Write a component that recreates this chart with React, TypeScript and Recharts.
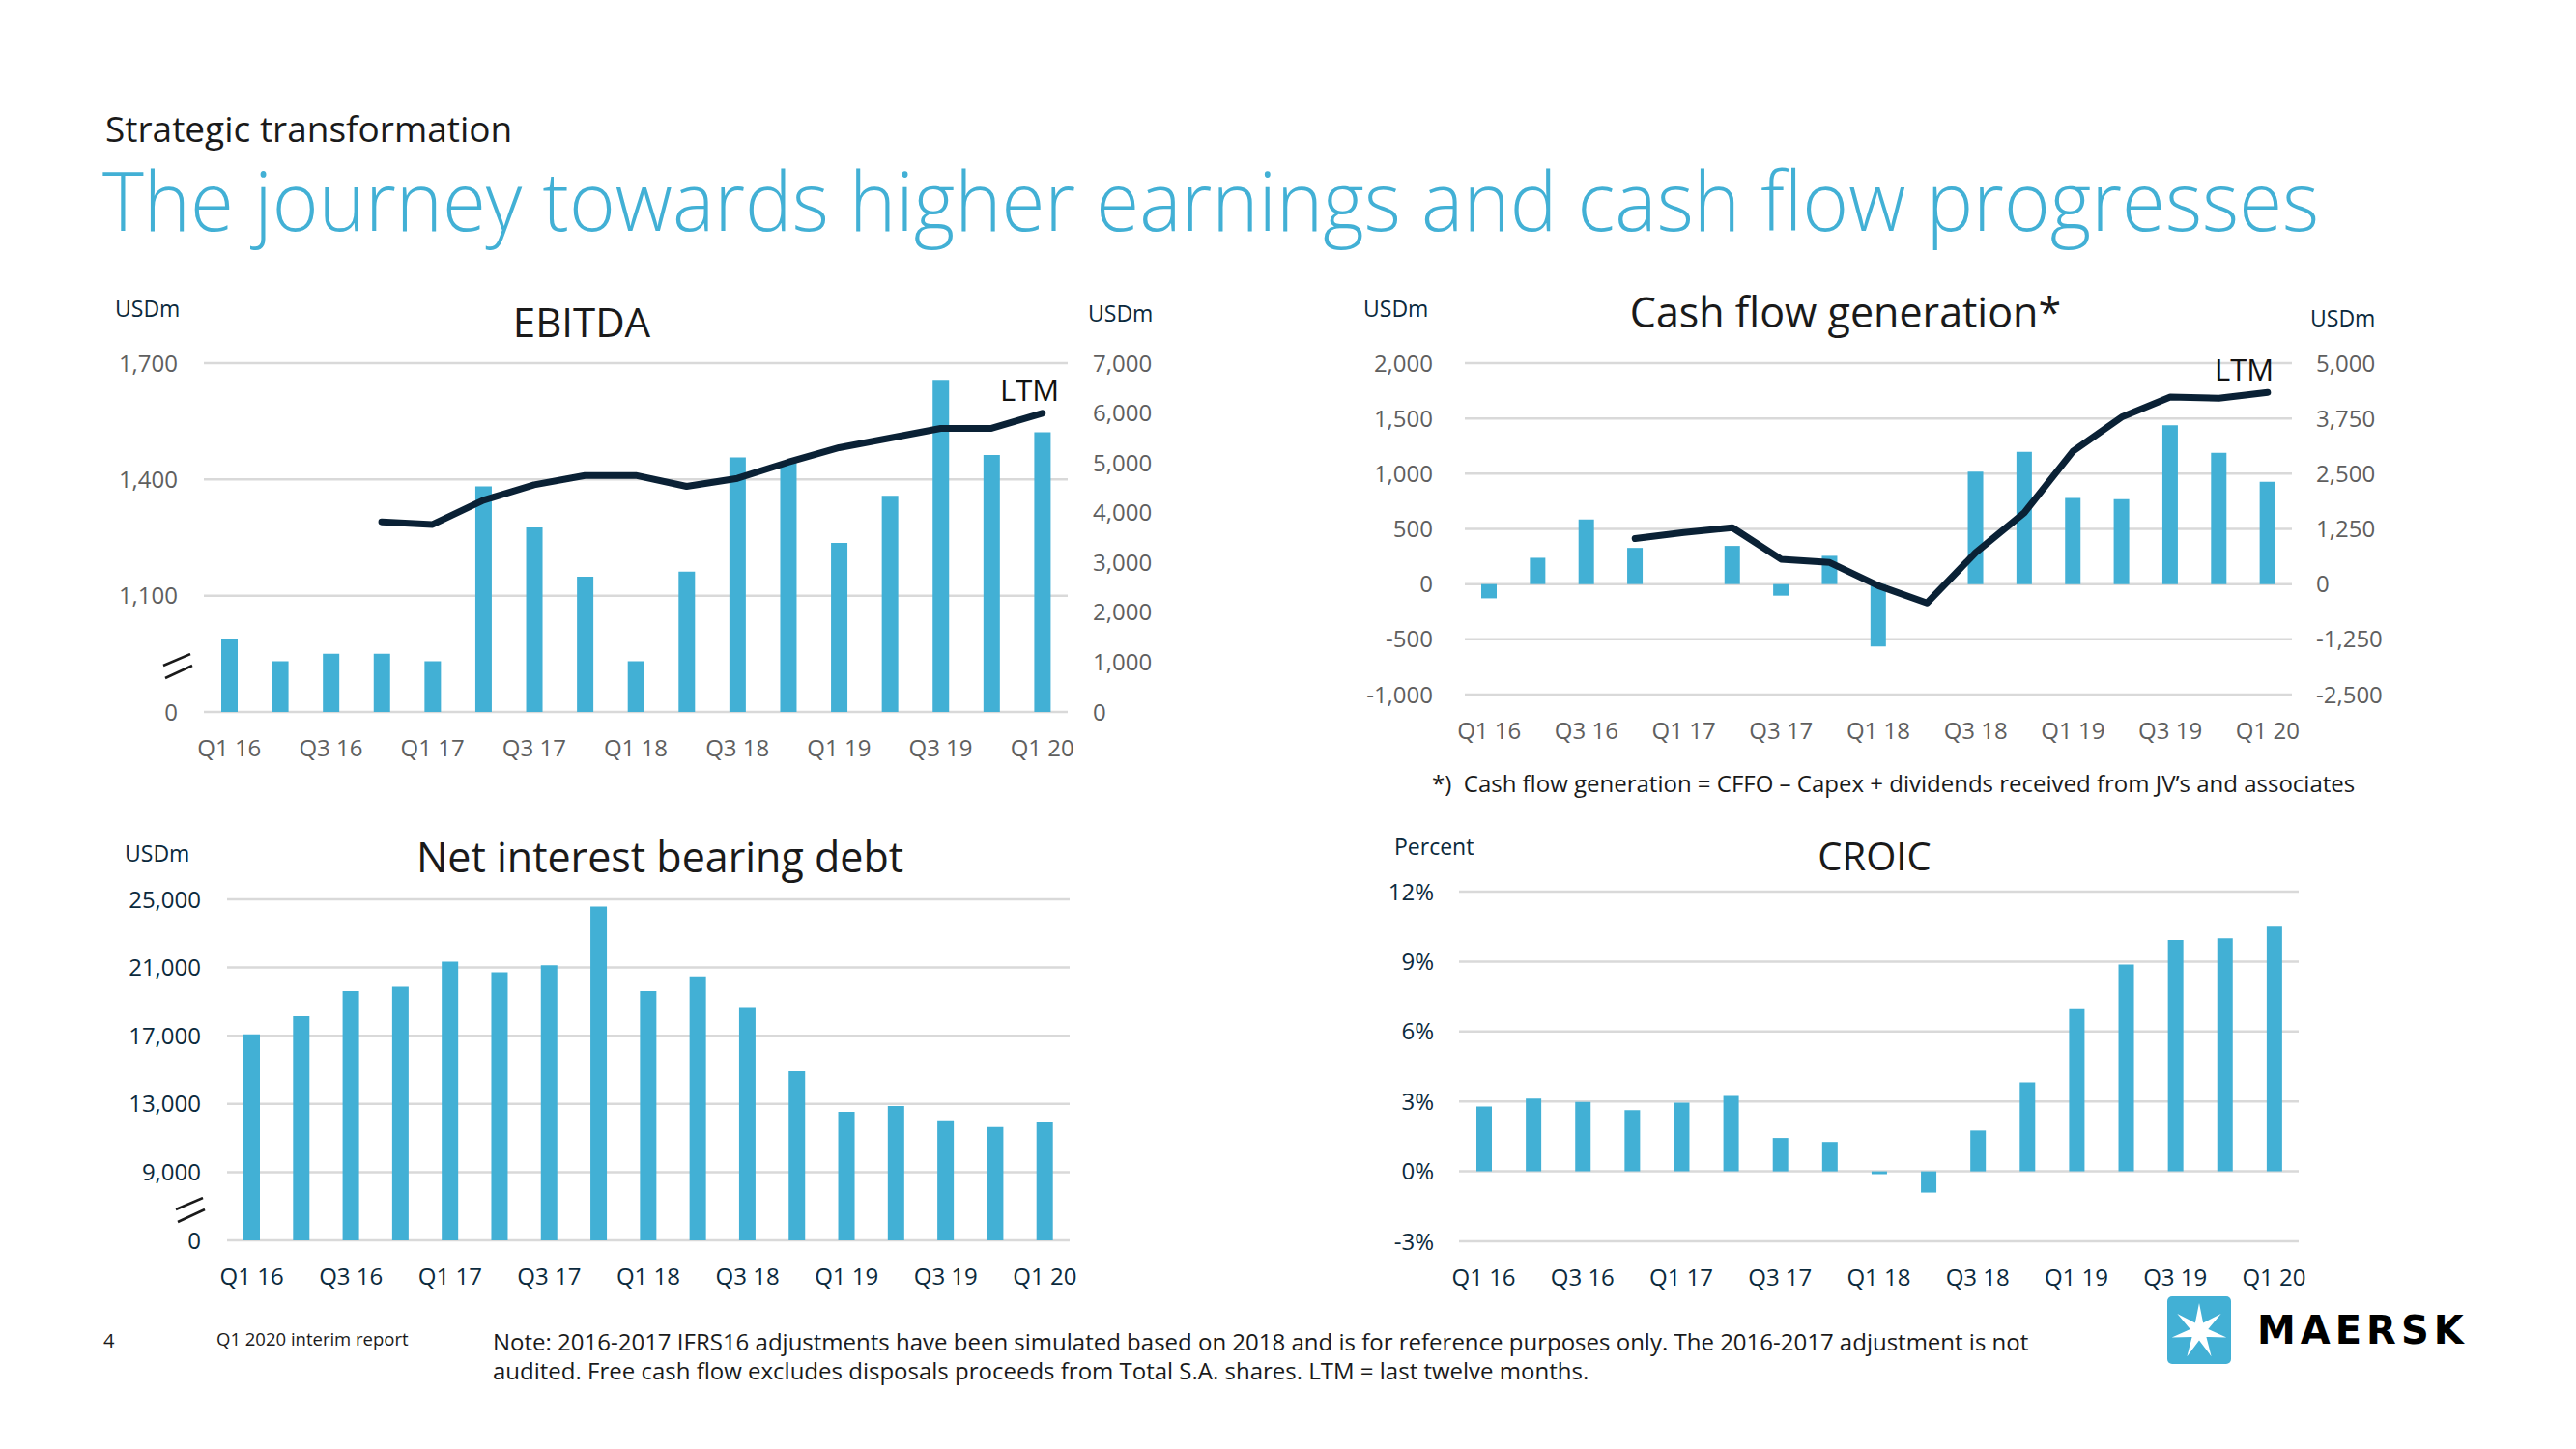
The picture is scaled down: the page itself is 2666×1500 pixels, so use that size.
import React from 'react';
import { ComposedChart, BarChart, Bar, Line, XAxis, YAxis, CartesianGrid } from 'recharts';

const quarters = [
  'Q1 16', 'Q2 16', 'Q3 16', 'Q4 16',
  'Q1 17', 'Q2 17', 'Q3 17', 'Q4 17',
  'Q1 18', 'Q2 18', 'Q3 18', 'Q4 18',
  'Q1 19', 'Q2 19', 'Q3 19', 'Q4 19',
  'Q1 20',
];

// EBITDA, USDm (quarterly bars, left axis) and LTM (line, right axis)
const ebitdaQuarterly = [989, 931, 950, 950, 931, 1382, 1276, 1149, 931, 1162, 1457, 1444, 1236, 1358, 1657, 1463, 1522];
const ebitdaLtm = [null, null, null, 3816, 3764, 4249, 4559, 4747, 4747, 4528, 4689, 5013, 5304, 5498, 5692, 5692, 5995];
const ebitdaBreak = 800; // axis is broken: this position is labelled 0
const ebitdaLeftTicks = [800, 1100, 1400, 1700];
const ebitdaRightTicks = [0, 1000, 2000, 3000, 4000, 5000, 6000, 7000];

// Cash flow generation, USDm
const cashQuarterly = [-129, 238, 586, 328, 0, 346, -105, 256, -565, 0, 1019, 1197, 779, 770, 1437, 1188, 926];
const cashLtm = [null, null, null, 1031, 1166, 1278, 563, 489, -37, -428, 714, 1616, 3007, 3780, 4233, 4209, 4337];
const cashLeftTicks = [-1000, -500, 0, 500, 1000, 1500, 2000];
const cashRightTicks = [-2500, -1250, 0, 1250, 2500, 3750, 5000];

// Net interest bearing debt, USDm
const nibd = [17083, 18140, 19611, 19876, 21347, 20725, 21138, 24570, 19611, 20476, 18689, 14917, 12542, 12881, 12033, 11637, 11960];
const nibdBreak = 5000; // axis is broken: this position is labelled 0
const nibdTicks = [5000, 9000, 13000, 17000, 21000, 25000];

// CROIC, percent
const croic = [2.78, 3.12, 2.98, 2.62, 2.95, 3.24, 1.43, 1.26, -0.12, -0.91, 1.75, 3.82, 7.0, 8.87, 9.93, 10.0, 10.5];
const croicTicks = [-3, 0, 3, 6, 9, 12];

const BLUE = '#42b0d5';
const NAVY = '#0b2a3d';
const LINE = '#0a2135';
const GREY_TXT = '#5f5f5f';
const GRID = '#d9d9d9';
const FONT = '"Open Sans", "Noto Sans", sans-serif';

const fmt = (v: number) => v.toLocaleString('en-US');

const ebitdaRows = quarters.map((q, i) => ({ q, value: ebitdaQuarterly[i], ltm: ebitdaLtm[i] }));
const cashRows = quarters.map((q, i) => ({ q, value: cashQuarterly[i], ltm: cashLtm[i] }));
const nibdRows = quarters.map((q, i) => ({ q, value: nibd[i] }));
const croicRows = quarters.map((q, i) => ({ q, value: croic[i] }));

const Txt = ({ x, y, size, color = '#1a1a1a', weight = 400, children, align = 'left', w = 0, style = {} }: any) => {
  // y is the vertical centre of the capitals
  const top = y - size * 0.53;
  const pos: any = align === 'center' ? { left: x - w / 2, width: w, textAlign: 'center' } : { left: x };
  return (
    <div style={{ position: 'absolute', top, ...pos, fontSize: size, lineHeight: 1, color, fontWeight: weight, whiteSpace: 'nowrap', fontFamily: FONT, ...style }}>
      {children}
    </div>
  );
};

const BreakMark = ({ x, y }: { x: number; y: number }) => (
  <svg style={{ position: 'absolute', left: x, top: y }} width={32} height={30}>
    <line x1={1} y1={13} x2={29} y2={1} stroke="#1a1a1a" strokeWidth={2.5} />
    <line x1={3} y1={26} x2={31} y2={13} stroke="#1a1a1a" strokeWidth={2.5} />
  </svg>
);

const MaerskLogo = () => {
  const pts: string[] = [];
  for (let i = 0; i < 14; i++) {
    const r = i % 2 === 0 ? 29 : 9.5;
    const a = -Math.PI / 2 + (i * Math.PI) / 7;
    pts.push(`${33 + r * Math.cos(a)},${36 + r * Math.sin(a)}`);
  }
  return (
    <>
      <svg style={{ position: 'absolute', left: 2243, top: 1342 }} width={66} height={70}>
        <rect x={0} y={0} width={66} height={70} rx={5} fill={BLUE} />
        <polygon points={pts.join(' ')} fill="#ffffff" />
      </svg>
      <div style={{ position: 'absolute', left: 2336, top: 1357, fontSize: 40, lineHeight: 1, fontWeight: 900, fontFamily: '"DejaVu Sans", sans-serif', letterSpacing: 5, color: '#000' }}>
        MAERSK
      </div>
    </>
  );
};

const tickStyle = (fill: string) => ({ fill, fontSize: 24, fontFamily: FONT });

export default function App() {
  return (
    <div style={{ position: 'absolute', left: 0, top: 0, width: 2666, height: 1500, background: '#fff', fontFamily: FONT, overflow: 'hidden' }}>
      <Txt x={109} y={134} size={37}>Strategic transformation</Txt>
      <Txt x={106} y={210} size={84} weight={300} color={BLUE} style={{ transform: 'scaleX(0.973)', transformOrigin: 'left center' }}>
        The journey towards higher earnings and cash flow progresses
      </Txt>

      {/* EBITDA */}
      <Txt x={602} y={334} size={42} align="center" w={400}>EBITDA</Txt>
      <Txt x={119} y={320} size={23} color={NAVY}>USDm</Txt>
      <Txt x={1126} y={325} size={23} color={NAVY}>USDm</Txt>
      <div style={{ position: 'absolute', left: 90, top: 336 }}>
        <ComposedChart width={1135} height={461} data={ebitdaRows} margin={{ top: 40, right: 0, bottom: 0, left: 0 }}>
          <CartesianGrid yAxisId="left" vertical={false} stroke={GRID} strokeWidth={2.5} />
          <XAxis dataKey="q" interval={1} axisLine={false} tickLine={false} tickSize={0} tickMargin={29} height={60} tick={tickStyle(GREY_TXT)} />
          <YAxis yAxisId="left" type="number" domain={[ebitdaBreak, 1700]} ticks={ebitdaLeftTicks} interval={0} allowDataOverflow width={121}
            axisLine={false} tickLine={false} tickSize={0} tickMargin={27} tick={tickStyle(GREY_TXT)}
            tickFormatter={(v: number) => (v === ebitdaBreak ? '0' : fmt(v))} />
          <YAxis yAxisId="right" orientation="right" type="number" domain={[0, 7000]} ticks={ebitdaRightTicks} interval={0} width={120}
            axisLine={false} tickLine={false} tickSize={0} tickMargin={26} tick={{ ...tickStyle(GREY_TXT), textAnchor: 'start' }}
            tickFormatter={fmt} />
          <Bar yAxisId="left" dataKey="value" fill={BLUE} barSize={17} isAnimationActive={false} />
          <Line yAxisId="right" dataKey="ltm" stroke={LINE} strokeWidth={7} dot={false} strokeLinejoin="round" strokeLinecap="round" isAnimationActive={false} />
        </ComposedChart>
      </div>
      <Txt x={1035} y={404} size={31} color="#111">LTM</Txt>
      <BreakMark x={168} y={676} />

      {/* Cash flow generation */}
      <Txt x={1910} y={324} size={43} align="center" w={600}>Cash flow generation*</Txt>
      <Txt x={1411} y={320} size={23} color={NAVY}>USDm</Txt>
      <Txt x={2391} y={330} size={23} color={NAVY}>USDm</Txt>
      <div style={{ position: 'absolute', left: 1396, top: 336 }}>
        <ComposedChart width={1096} height={443} data={cashRows} margin={{ top: 40, right: 0, bottom: 0, left: 0 }}>
          <CartesianGrid yAxisId="left" vertical={false} stroke={GRID} strokeWidth={2.5} />
          <XAxis dataKey="q" interval={1} axisLine={false} tickLine={false} tickSize={0} tickMargin={29} height={60} tick={tickStyle(GREY_TXT)} />
          <YAxis yAxisId="left" type="number" domain={[-1000, 2000]} ticks={cashLeftTicks} interval={0} width={120}
            axisLine={false} tickLine={false} tickSize={0} tickMargin={33} tick={tickStyle(GREY_TXT)} tickFormatter={fmt} />
          <YAxis yAxisId="right" orientation="right" type="number" domain={[-2500, 5000]} ticks={cashRightTicks} interval={0} width={120}
            axisLine={false} tickLine={false} tickSize={0} tickMargin={25} tick={{ ...tickStyle(GREY_TXT), textAnchor: 'start' }}
            tickFormatter={fmt} />
          <Bar yAxisId="left" dataKey="value" fill={BLUE} barSize={16} isAnimationActive={false} />
          <Line yAxisId="right" dataKey="ltm" stroke={LINE} strokeWidth={7} dot={false} strokeLinejoin="round" strokeLinecap="round" isAnimationActive={false} />
        </ComposedChart>
      </div>
      <Txt x={2292} y={383} size={31} color="#111">LTM</Txt>
      <Txt x={1482} y={812} size={24}>*)&nbsp; Cash flow generation = CFFO – Capex + dividends received from JV’s and associates</Txt>

      {/* Net interest bearing debt */}
      <Txt x={683} y={888} size={43} align="center" w={700}>Net interest bearing debt</Txt>
      <Txt x={129} y={884} size={23} color={NAVY}>USDm</Txt>
      <div style={{ position: 'absolute', left: 90, top: 891 }}>
        <BarChart width={1037} height={453} data={nibdRows} margin={{ top: 40, right: 20, bottom: 0, left: 0 }}>
          <CartesianGrid vertical={false} stroke={GRID} strokeWidth={2.5} />
          <XAxis dataKey="q" interval={1} axisLine={false} tickLine={false} tickSize={0} tickMargin={29} height={60} tick={tickStyle(NAVY)} />
          <YAxis type="number" domain={[nibdBreak, 25000]} ticks={nibdTicks} interval={0} allowDataOverflow width={145}
            axisLine={false} tickLine={false} tickSize={0} tickMargin={27} tick={tickStyle(NAVY)}
            tickFormatter={(v: number) => (v === nibdBreak ? '0' : fmt(v))} />
          <Bar dataKey="value" fill={BLUE} barSize={17} isAnimationActive={false} />
        </BarChart>
      </div>
      <BreakMark x={181} y={1239} />

      {/* CROIC */}
      <Txt x={1940} y={887} size={40} align="center" w={400}>CROIC</Txt>
      <Txt x={1443} y={877} size={23} color={NAVY}>Percent</Txt>
      <div style={{ position: 'absolute', left: 1400, top: 883 }}>
        <BarChart width={1000} height={462} data={croicRows} margin={{ top: 40, right: 21, bottom: 0, left: 0 }}>
          <CartesianGrid vertical={false} stroke={GRID} strokeWidth={2.5} />
          <XAxis dataKey="q" interval={1} axisLine={false} tickLine={false} tickSize={0} tickMargin={29} height={60} tick={tickStyle(NAVY)} />
          <YAxis type="number" domain={[-3, 12]} ticks={croicTicks} interval={0} width={110}
            axisLine={false} tickLine={false} tickSize={0} tickMargin={26} tick={tickStyle(NAVY)}
            tickFormatter={(v: number) => `${v}%`} />
          <Bar dataKey="value" fill={BLUE} barSize={16} isAnimationActive={false} />
        </BarChart>
      </div>

      {/* footer */}
      <Txt x={107} y={1389} size={20}>4</Txt>
      <Txt x={224} y={1387} size={18.5}>Q1 2020 interim report</Txt>
      <div style={{ position: 'absolute', left: 510, top: 1374, fontSize: 24, lineHeight: '30px', color: '#1a1a1a', fontFamily: FONT }}>
        Note: 2016-2017 IFRS16 adjustments have been simulated based on 2018 and is for reference purposes only. The 2016-2017 adjustment is not
        <br />
        audited. Free cash flow excludes disposals proceeds from Total S.A. shares. LTM = last twelve months.
      </div>
      <MaerskLogo />
    </div>
  );
}
